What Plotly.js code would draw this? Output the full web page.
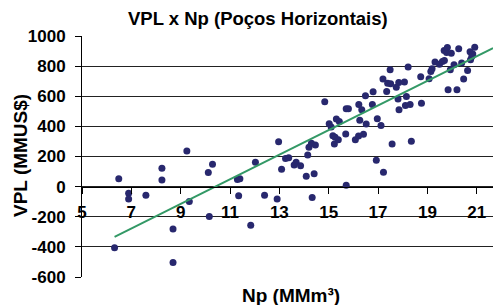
<!DOCTYPE html>
<html>
<head>
<meta charset="utf-8">
<script src="https://cdn.plot.ly/plotly-3.0.1.min.js"></script>
<style>html,body{margin:0;padding:0;background:#fff;}#chart{width:493px;height:305px;}</style>
</head>
<body>
<div id="chart"></div>
<script>
// Np (MMm³) values
const npData = [6.32,6.49,6.89,6.89,7.59,8.24,8.24,8.69,8.69,9.25,9.35,10.12,10.29,10.16,11.30,11.40,11.35,12.03,11.84,12.40,12.91,12.97,13.09,13.25,13.38,13.60,13.68,13.86,14.09,14.15,14.20,14.30,14.46,14.41,14.33,14.84,15.02,15.10,15.31,15.43,15.17,15.26,15.23,15.39,15.69,15.71,15.71,15.80,16.08,16.21,16.22,16.26,16.34,16.41,16.49,16.52,16.77,16.80,16.93,16.97,17.12,17.20,17.22,17.35,17.39,17.49,17.51,17.57,17.74,17.81,17.84,17.85,18.07,18.11,18.15,18.22,18.30,18.35,18.73,18.76,19.07,19.14,19.19,19.31,19.49,19.61,19.69,19.68,19.78,19.81,19.84,19.93,19.97,20.08,20.20,20.27,20.39,20.47,20.63,20.73,20.75,20.84,20.92,20.80];
// VPL (MMUS$) values
const vplData = [-405,53,-44,-82,-57,122,44,-281,-504,237,-99,93,148,-199,48,52,-60,161,-256,-57,-82,298,115,186,192,144,161,139,69,210,262,288,276,86,-73,563,418,396,449,433,338,327,283,312,349,9,517,517,312,336,546,440,511,347,603,416,546,630,175,451,405,714,95,632,687,776,683,283,659,581,692,511,694,539,599,794,546,301,729,553,716,765,783,827,813,831,838,904,891,924,643,776,886,809,643,915,820,714,771,895,842,880,926,864];
// linear trend
const trendSlope = 81.7;
const trendIntercept = -850;
// axis ticks
const xTickVals = [5,7,9,11,13,15,17,19,21];
const xTickText = ['5','7','9','11','13','15','17','19','21'];
const yTickVals = [-600,-400,-200,0,200,400,600,800,1000];
const yTickText = ['-600','-400','-200','0','200','400','600','800','1000'];
const xRange = [5, 21.66];
const yRange = [-600, 1000];
const chartTitle = 'VPL x Np (Poços Horizontais)';
const xTitle = 'Np (MMm³)';
const yTitle = 'VPL (MMUS$)';

const FONT = 'Liberation Sans, Arial, sans-serif';
const trendX = [Math.min(...npData), xRange[1]];
const trendY = trendX.map(x => trendSlope * x + trendIntercept);

const data = [
  {type:'scatter', mode:'markers', x:npData, y:vplData, xaxis:'x', yaxis:'y',
   marker:{color:'#28286e', size:7}, hoverinfo:'skip', showlegend:false},
  {type:'scatter', mode:'lines', x:trendX, y:trendY, xaxis:'x', yaxis:'y',
   line:{color:'#339966', width:2}, hoverinfo:'skip', showlegend:false}
];

const zeroPos = (0 - yRange[0]) / (yRange[1] - yRange[0]);

const layout = {
  width:493, height:305,
  margin:{l:82, r:0, t:36, b:28, pad:0},
  paper_bgcolor:'#fff', plot_bgcolor:'#fff',
  showlegend:false,
  font:{family:FONT, color:'#000', size:17, weight:'bold'},
  title:{text:chartTitle, font:{family:FONT, size:18.5, color:'#000', weight:'bold'},
         xref:'container', x:0.523, xanchor:'center', yref:'container', y:0.938, yanchor:'middle'},
  xaxis:{range:xRange, anchor:'free', position:zeroPos, showgrid:false, zeroline:false,
         showline:true, linecolor:'#000', linewidth:1,
         ticks:'outside', ticklen:6, tickcolor:'#000', tickwidth:1,
         tickmode:'array', tickvals:xTickVals, ticktext:xTickText,
         tickfont:{family:FONT, size:17, color:'#000', weight:'bold'}, ticklabelstandoff:4},
  yaxis:{range:yRange, showgrid:true, gridcolor:'#222', gridwidth:1, zeroline:false,
         showline:true, linecolor:'#000', linewidth:1,
         ticks:'outside', ticklen:6, tickcolor:'#000', tickwidth:1,
         tickmode:'array', tickvals:yTickVals, ticktext:yTickText,
         tickfont:{family:FONT, size:17, color:'#000', weight:'bold'}, ticklabelstandoff:6},
  annotations:[
    {text:xTitle, xref:'paper', yref:'paper', x:(291-82)/411, y:(277-295)/241,
     xanchor:'center', yanchor:'middle', showarrow:false,
     font:{family:FONT, size:19, color:'#000', weight:'bold'}},
    {text:yTitle, xref:'paper', yref:'paper', x:(20-82)/411, y:(277-155)/241,
     xanchor:'center', yanchor:'middle', showarrow:false, textangle:-90,
     font:{family:FONT, size:19, color:'#000', weight:'bold'}}
  ]
};

Plotly.newPlot('chart', data, layout, {staticPlot:true, displayModeBar:false});
</script>
</body>
</html>
